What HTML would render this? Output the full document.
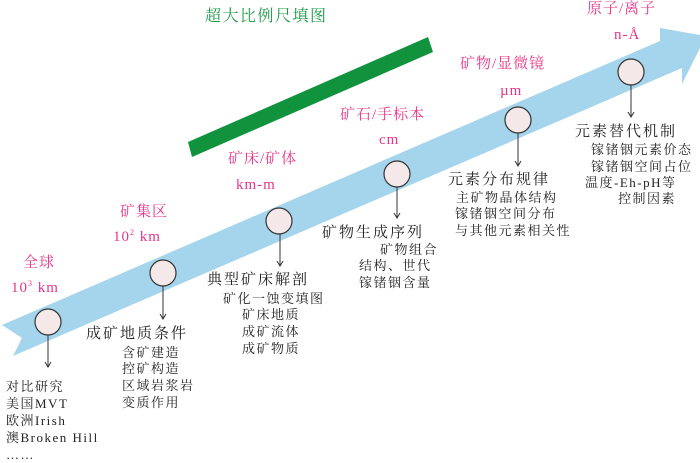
<!DOCTYPE html>
<html><head><meta charset="utf-8"><style>
body{margin:0;width:700px;height:460px;background:#fff;position:relative;overflow:hidden;font-family:"Liberation Serif","Noto Serif CJK SC","Noto Sans CJK SC",serif;color:#222}
.t{position:absolute;white-space:nowrap;line-height:1}
.p{color:#e6368a;font-size:15px;letter-spacing:1px}
.h{font-size:15px;letter-spacing:2px}
.s{font-size:13px;letter-spacing:1.5px;line-height:17px}
</style></head><body>
<svg width="700" height="460" style="position:absolute;left:0;top:0">
<polygon points="2,325 660,41 660,28 706,36 682,84 682,68 13,356 22,338" fill="#a5d5ec"/>
<polygon points="188,142 428,37 433,52 192,157" fill="#11923c"/>
<g stroke="#333" stroke-width="1.2" fill="#f4e8e8">
<circle cx="48" cy="322" r="13"/><circle cx="163" cy="273" r="13"/><circle cx="279" cy="221" r="13"/><circle cx="397" cy="174" r="13"/><circle cx="518" cy="120" r="13"/><circle cx="631" cy="72" r="13"/>
</g>
<g stroke="#333" stroke-width="1" fill="none">
<path d="M48 335V366M45 362L48 367L51 362"/>
<path d="M163 286V318M160 314L163 319L166 314"/>
<path d="M280 234V265M277 261L280 266L283 261"/>
<path d="M397 187V217M394 213L397 218L400 213"/>
<path d="M518 133V165M515 161L518 166L521 161"/>
<path d="M631 85V116M628 112L631 117L634 112"/>
</g>
</svg>
<div class="t" style="left:205px;top:9px;color:#1a9a45;font-size:16px;letter-spacing:1.5px">超大比例尺填图</div>
<div class="t p" style="left:23px;top:256px">全球</div>
<div class="t p" style="left:11px;top:280px">10<sup style="font-size:8px">3</sup> km</div>
<div class="t p" style="left:120px;top:205px">矿集区</div>
<div class="t p" style="left:113px;top:229px">10<sup style="font-size:8px">2</sup> km</div>
<div class="t p" style="left:228px;top:152px">矿床/矿体</div>
<div class="t p" style="left:236px;top:178px">km-m</div>
<div class="t p" style="left:340px;top:108px">矿石/手标本</div>
<div class="t p" style="left:379px;top:133px">cm</div>
<div class="t p" style="left:460px;top:57px">矿物/显微镜</div>
<div class="t p" style="left:500px;top:84px">µm</div>
<div class="t p" style="left:587px;top:2px">原子/离子</div>
<div class="t p" style="left:614px;top:28px">n-Å</div>
<div class="t s" style="left:6px;top:378px">对比研究<br>美国MVT<br>欧洲Irish<br>澳Broken Hill<br>……</div>
<div class="t h" style="left:86px;top:327px">成矿地质条件</div>
<div class="t s" style="left:122px;top:344px">含矿建造</div>
<div class="t s" style="left:122px;top:360px">控矿构造<br>区域岩浆岩<br>变质作用</div>
<div class="t h" style="left:207px;top:273px">典型矿床解剖</div>
<div class="t s" style="left:223px;top:290px">矿化一蚀变填图</div>
<div class="t s" style="left:242px;top:306px">矿床地质<br>成矿流体<br>成矿物质</div>
<div class="t h" style="left:322px;top:226px">矿物生成序列</div>
<div class="t s" style="left:380px;top:241px">矿物组合</div>
<div class="t s" style="left:359px;top:257px">结构、世代<br>镓锗铟含量</div>
<div class="t h" style="left:448px;top:173px">元素分布规律</div>
<div class="t s" style="left:456px;top:189px">主矿物晶体结构</div>
<div class="t s" style="left:455px;top:205px">镓锗铟空间分布<br>与其他元素相关性</div>
<div class="t h" style="left:575px;top:125px">元素替代机制</div>
<div class="t s" style="left:591px;top:141px">镓锗铟元素价态<br>镓锗铟空间占位</div>
<div class="t s" style="left:585px;top:174px">温度-Eh-pH等</div>
<div class="t s" style="left:618px;top:190px">控制因素</div>
</body></html>
